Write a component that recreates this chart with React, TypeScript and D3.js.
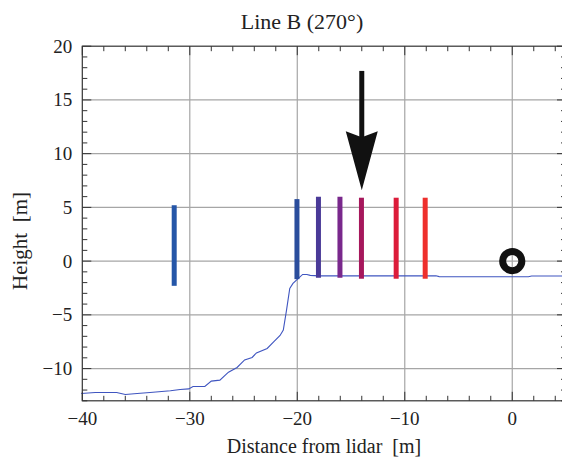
import React from "react";
import * as d3 from "d3";

const W = 562;
const H = 467;

// Ground profile (distance, height)
const groundX = [-40.1, -38.8, -36.8, -36.0, -34.9, -33.7, -31.8, -30.9, -30.1, -29.7, -28.6, -28.0, -27.2, -26.4, -25.6, -24.9, -24.2, -23.8, -22.8, -22.2, -21.6, -21.3, -21.0, -20.7, -20.4, -19.9, -19.5, -19.1, -18.8, -18.0, -7.1, -6.8, -4.5, 1.5, 1.8, 5.0];
const groundY = [-12.32, -12.23, -12.23, -12.41, -12.32, -12.23, -12.07, -11.95, -11.89, -11.67, -11.67, -11.17, -11.08, -10.34, -9.9, -9.2, -8.97, -8.54, -8.13, -7.51, -6.92, -6.42, -4.56, -2.54, -2.08, -1.61, -1.24, -1.24, -1.33, -1.37, -1.37, -1.44, -1.46, -1.46, -1.38, -1.38];

// Vertical bars
const barX = [-31.45, -20.03, -18.03, -16.03, -14.03, -10.8, -8.1];
const barTop = [5.2, 5.77, 5.99, 5.99, 5.9, 5.9, 5.9];
const barBottom = [-2.3, -1.68, -1.55, -1.55, -1.64, -1.64, -1.64];
const barColors = ["#2556a8", "#2a4d9c", "#4a3a98", "#79288c", "#a6175c", "#dc1c3a", "#ee2f2c"];

// Arrow and lidar marker
const arrowX = -14;
const arrowTop = 17.7;
const arrowTip = 6.6;
const lidarX = 0;
const lidarY = 0;

const xTicks = [-40, -30, -20, -10, 0];
const yTicks = [-10, -5, 0, 5, 10, 15, 20];

const x = d3.scaleLinear().domain([-40, 5]).range([82.3, 566]);
const y = d3.scaleLinear().domain([-13, 20]).range([400.8, 46.2]);

const fmt = (v: number) => (v < 0 ? "\u2212" + Math.abs(v) : String(v));

export default function App() {
  const line = d3
    .line<number>()
    .x((_, i) => x(groundX[i]))
    .y((d) => y(d));
  const xMinor = d3.range(-40, 5.01, 2);
  const yMinor = d3.range(-13, 20.01, 1);
  const x0 = x(-40), x1 = x(5), y0 = y(-13), y1 = y(20);
  const font = "'Liberation Serif', 'Times New Roman', serif";

  const ax = x(arrowX);
  const aTop = y(arrowTop);
  const aTip = y(arrowTip);
  const headLen = 59;
  const headHalf = 16;
  const wingY = aTip - headLen;
  const notchY = wingY + 6;

  return (
    <svg width={W} height={H} style={{ position: "absolute", left: 0, top: 0, background: "#fff" }}>
      {/* grid */}
      {xTicks.filter((t) => t > -40).map((t) => (
        <line key={"gx" + t} x1={x(t)} x2={x(t)} y1={y0} y2={y1} stroke="#a6a6a6" strokeWidth={1.2} />
      ))}
      {yTicks.filter((t) => t < 20).map((t) => (
        <line key={"gy" + t} x1={x0} x2={x1} y1={y(t)} y2={y(t)} stroke="#a6a6a6" strokeWidth={1.2} />
      ))}
      {/* ticks */}
      {xMinor.map((t) => (
        <g key={"mx" + t}>
          <line x1={x(t)} x2={x(t)} y1={y0} y2={y0 - (t % 10 === 0 ? 9 : 5)} stroke="#333" strokeWidth={1} />
          <line x1={x(t)} x2={x(t)} y1={y1} y2={y1 + (t % 10 === 0 ? 9 : 5)} stroke="#333" strokeWidth={1} />
        </g>
      ))}
      {yMinor.map((t) => (
        <g key={"my" + t}>
          <line x1={x0} x2={x0 + (t % 5 === 0 ? 9 : 5)} y1={y(t)} y2={y(t)} stroke="#333" strokeWidth={1} />
          <line x1={x1} x2={x1 - (t % 5 === 0 ? 9 : 5)} y1={y(t)} y2={y(t)} stroke="#333" strokeWidth={1} />
        </g>
      ))}
      {/* ground line */}
      <path d={line(groundY) || ""} fill="none" stroke="#3f55c0" strokeWidth={1.1} />
      {/* bars */}
      {barX.map((bx, i) => (
        <line key={"b" + i} x1={x(bx)} x2={x(bx)} y1={y(barTop[i])} y2={y(barBottom[i])} stroke={barColors[i]} strokeWidth={5} />
      ))}
      {/* arrow */}
      <line x1={ax} x2={ax} y1={aTop} y2={notchY + 2} stroke="#111" strokeWidth={5} />
      <path
        d={`M${ax},${aTip} L${ax - headHalf},${wingY} L${ax},${notchY} L${ax + headHalf},${wingY} Z`}
        fill="#111"
      />
      {/* lidar marker */}
      <circle cx={x(lidarX)} cy={y(lidarY)} r={9.6} fill="none" stroke="#111" strokeWidth={7} />
      {/* frame */}
      <rect x={x0} y={y1} width={x1 - x0} height={y0 - y1} fill="none" stroke="#333" strokeWidth={1.2} />
      {/* tick labels */}
      {xTicks.map((t) => (
        <text key={"tx" + t} x={x(t)} y={y0 + 24} textAnchor="middle" fontFamily={font} fontSize={19} fill="#222">
          {fmt(t)}
        </text>
      ))}
      {yTicks.map((t) => (
        <text key={"ty" + t} x={x0 - 10} y={y(t) + 6.5} textAnchor="end" fontFamily={font} fontSize={19} fill="#222">
          {fmt(t)}
        </text>
      ))}
      {/* title and labels */}
      <text x={302} y={29} textAnchor="middle" fontFamily={font} fontSize={22} fill="#222">
        Line B (270°)
      </text>
      <text x={324} y={453} textAnchor="middle" fontFamily={font} fontSize={20} fill="#222" style={{ whiteSpace: "pre" }}>
        {"Distance from lidar  [m]"}
      </text>
      <text
        transform={`translate(27,${241}) rotate(-90)`}
        textAnchor="middle"
        fontFamily={font}
        fontSize={21}
        fill="#222"
        style={{ whiteSpace: "pre" }}
      >
        {"Height  [m]"}
      </text>
    </svg>
  );
}
